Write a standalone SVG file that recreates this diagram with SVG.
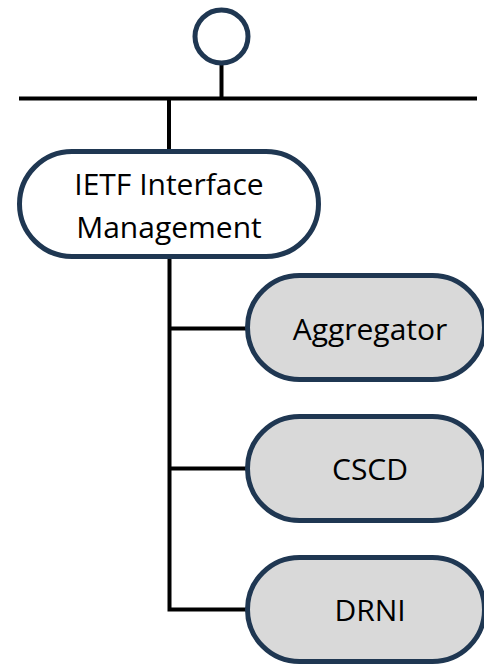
<svg xmlns="http://www.w3.org/2000/svg" width="484" height="664" viewBox="0 0 484 664">
<style>
.node{stroke:#1f3752;stroke-width:5}
.root{fill:#ffffff}
.child{fill:#d9d9d9}
.lbl{font-family:"Open Sans","Liberation Sans",Arial,sans-serif;font-size:30px;fill:#000;text-anchor:middle}
.conn{stroke:#000;stroke-width:4;fill:none;stroke-linecap:butt}
</style>
<rect width="484" height="664" fill="#ffffff"/>
<g id="connectors">
<line class="conn" x1="221.5" y1="63" x2="221.5" y2="98.5"/>
<line class="conn" x1="19" y1="98.5" x2="477" y2="98.5"/>
<line class="conn" x1="169" y1="98.5" x2="169" y2="152"/>
<path class="conn" d="M169.5 256 V609.5 H247"/>
<line class="conn" x1="169.5" y1="328.5" x2="247" y2="328.5"/>
<line class="conn" x1="169.5" y1="468.5" x2="247" y2="468.5"/>
</g>
<g id="start">
<circle class="node" cx="221.5" cy="36.5" r="26.5" fill="#ffffff"/>
</g>
<g id="ietf">
<rect class="node root" x="19.5" y="151.5" width="299" height="105" rx="52.5"/>
<text class="lbl" x="169" y="195">IETF Interface</text>
<text class="lbl" x="169" y="238">Management</text>
</g>
<g id="aggregator">
<rect class="node child" x="247.5" y="275.5" width="237" height="104" rx="52"/>
<text class="lbl" x="370" y="340">Aggregator</text>
</g>
<g id="cscd">
<rect class="node child" x="247.5" y="416.5" width="237" height="104" rx="52"/>
<text class="lbl" x="370" y="480">CSCD</text>
</g>
<g id="drni">
<rect class="node child" x="247.5" y="557.5" width="237" height="104" rx="52"/>
<text class="lbl" x="370" y="621">DRNI</text>
</g>
</svg>
